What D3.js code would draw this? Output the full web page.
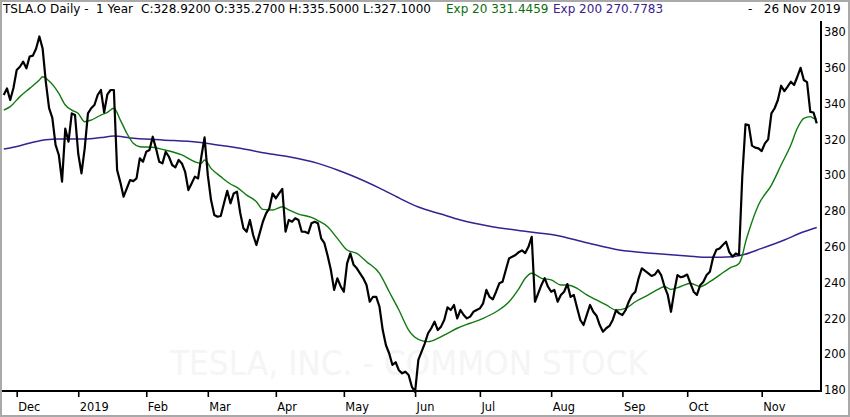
<!DOCTYPE html>
<html>
<head>
<meta charset="utf-8">
<script src="https://cdn.jsdelivr.net/npm/d3@7"></script>
<style>
  body { margin: 0; background: #fff; }
  svg { display: block; font-family: 'DejaVu Sans', sans-serif; }
  .hdr text { white-space: pre; }
</style>
</head>
<body>
<svg width="850" height="417"></svg>
<script>
// daily closes, one per trading day, 27 Nov 2018 .. 26 Nov 2019
let closes = [
  344.8, 348.5, 342, 348.7, 358.8, 360.6, 363.4, 359.7, 366.3, 366.8,
  370.8, 377.5, 370.8, 352, 337.5, 332, 316.9, 311.3, 296.4, 326,
  318.7, 334.5, 333.6, 312, 301, 315, 334.5, 337.4, 339.2, 344.8,
  347.6, 335.1, 345.2, 347.6, 347.6, 302.9, 296, 288, 292.6, 297.3,
  296.7, 298.2, 309.4, 307.5, 313.1, 314.1, 321.5, 315, 307.5, 306.6,
  313.1, 310.3, 305.7, 304.4, 308.5, 306.6, 301.9, 291.7, 295.4, 299.2,
  298.2, 310.3, 321.1, 300, 286.1, 277.8, 276.8, 277.2, 284.3, 291.3,
  284.3, 289.8, 290.8, 279, 270.3, 268.4, 275, 266.6, 261, 267.5,
  274, 278.7, 281.5, 289.8, 287.1, 289.8, 292.3, 268.4, 275, 274,
  275.9, 275, 268.4, 268.4, 267.5, 273.1, 274, 273.1, 264.7, 262,
  255, 247, 235.9, 242.4, 238, 234.9, 250.7, 256.3, 250, 248,
  245.2, 242.4, 238.7, 229.3, 232.1, 232, 226.5, 213.5, 205, 200.4,
  194, 195.5, 191, 189.3, 190.2, 188.4, 181.8, 179, 196.8, 201.4,
  206.1, 211.7, 214.5, 218.2, 213.5, 215.4, 219.1, 226.2, 224.7, 227.5,
  220, 224.7, 221.9, 220, 221, 223.7, 224.7, 225.6, 228.4, 235.9,
  232, 230.6, 234.9, 239.6, 240.5, 247, 253.5, 254.5, 255.4, 257,
  258, 256.5, 260, 265.6, 229.3, 234, 238.7, 242.5, 237.8, 234.9,
  235.9, 229.3, 233.1, 234.9, 239.2, 232, 233.1, 226, 219.1, 216.3,
  222, 227.5, 223.7, 221.5, 216.3, 212.6, 214.5, 215.8, 219.1, 224.5,
  222.8, 221.9, 224.7, 229.5, 233.1, 234.9, 242.4, 248, 246.5, 245.2,
  243.7, 244.5, 247, 244, 237.8, 233.1, 223.7, 235, 244.2, 243,
  243.5, 244.5, 239.6, 234.9, 233.1, 238.5, 240.5, 244.2, 246.1, 254,
  258.3, 259.1, 261, 262.8, 257, 254.5, 256.3, 255.4, 299, 328.4,
  328, 316.5, 315.4, 315, 313.5, 317.8, 320, 334.5, 337.4, 342,
  350, 347, 349.5, 352.2, 350.4, 355, 360, 353.2, 352, 335.4,
  335, 328.92
]

// Exp 20 at these trading days
let ema20Days = [0, 2, 5, 8, 11, 12, 14, 17, 19, 21, 23, 25, 27, 30, 32, 34, 36, 38, 40, 42,
  46, 49, 52, 55, 59, 61, 62, 64, 67, 70, 72, 75, 78, 80, 83, 86, 88, 91, 95, 97,
  100, 103, 106, 109, 112, 116, 119, 122, 125, 128, 131, 134, 137, 140, 144, 148, 152, 156, 159, 161,
  163, 166, 169, 172, 174, 177, 180, 183, 186, 189, 192, 195, 199, 202, 204, 206, 209, 212, 215, 218,
  221, 224, 227, 228, 229, 230, 233, 237, 240, 243, 245, 247, 249, 250, 251]
let ema20Vals = [336.4, 338.3, 343.9, 348.5, 353.2, 355, 352.6, 345.7, 339.2, 336.4, 334.5, 329.9, 330.8, 333.6, 335.1, 337.4, 330.8, 323.4, 317.8, 315.9,
  315.6, 314.4, 313.1, 311.3, 307.5, 306.6, 308.5, 303.8, 299.2, 295.1, 293.2, 288.9, 285.2, 280.9, 280.6, 282.4, 280.6, 278.3, 276.4, 274.6,
  271.2, 264.7, 258.2, 256.3, 251.7, 245.2, 234.9, 224.7, 213.5, 208.3, 207, 208.8, 211.6, 214.5, 217.3, 220, 223.7, 229.3, 236.5, 242.4,
  245.2, 242.4, 241.5, 238.7, 238.7, 236.8, 233.1, 230.3, 227.5, 224.7, 225.6, 229.3, 233.1, 236.2, 237.8, 236.2, 237.8, 239.6, 237.8, 240.5,
  244.2, 248, 250.7, 255, 262.5, 268.5, 283.4, 294.5, 305.7, 316.9, 326.2, 331.8, 332.7, 331.8, 331.45]

// Exp 200
let ema200Days = [0, 5, 9, 13, 17, 25, 30, 34, 39, 49, 60, 66, 73, 80, 88, 97, 103, 107, 116, 122,
  128, 135, 141, 150, 162, 170, 180, 190, 201, 211, 218, 225, 228, 234, 241, 247, 251]
let ema200Vals = [314.6, 316.5, 318.4, 319.8, 320.2, 320.2, 321, 321.9, 320.8, 319.7, 318.4, 316.9, 315, 312.6, 310.3, 306.6, 302.9, 300.1, 292.8, 287.3,
  282.2, 278.3, 275, 271.5, 268.4, 266.6, 262.3, 258.2, 256.3, 254.9, 254.1, 254.5, 255.4, 259.1, 263.8, 268.4, 270.78]

let monthDays = [4, 23, 44, 63, 84, 105, 127, 147, 169, 191, 211, 234]
let monthLabels = ['Dec', '2019', 'Feb', 'Mar', 'Apr', 'May', 'Jun', 'Jul', 'Aug', 'Sep', 'Oct', 'Nov']
let priceTicks = [180, 200, 220, 240, 260, 280, 300, 320, 340, 360, 380]

let svg = d3.select('svg')
let x = d3.scaleLinear().domain([0, closes.length - 1]).range([3.74, 816.76])
let y = d3.scaleLinear().domain([180, 380]).range([390, 32])

// frame
svg.append('rect')
  .attr('x', 1).attr('y', 1).attr('width', 848).attr('height', 415)
  .attr('fill', '#fff').attr('stroke', '#a9a9a9').attr('stroke-width', 2)

// watermark
svg.append('text')
  .attr('x', 170).attr('y', 375)
  .attr('textLength', 478).attr('lengthAdjust', 'spacingAndGlyphs')
  .attr('font-size', 33)
  .attr('fill', '#f5f5f5')
  .text('TESLA, INC.   -   COMMON STOCK')

let smooth = d3.line()
  .x(function(d) { return x(d[0]) })
  .y(function(d) { return y(d[1]) })
  .curve(d3.curveMonotoneX)

svg.append('path')
  .datum(ema200Days.map(function(d, i) { return [d, ema200Vals[i]] }))
  .attr('d', smooth)
  .attr('fill', 'none').attr('stroke', '#3a2090').attr('stroke-width', 1.5)

svg.append('path')
  .datum(ema20Days.map(function(d, i) { return [d, ema20Vals[i]] }))
  .attr('d', smooth)
  .attr('fill', 'none').attr('stroke', '#107a10').attr('stroke-width', 1.4)

let priceLine = d3.line()
  .x(function(d, i) { return x(i) })
  .y(function(d) { return y(d) })

svg.append('path')
  .datum(closes)
  .attr('d', priceLine)
  .attr('fill', 'none').attr('stroke', '#000').attr('stroke-width', 2.2)
  .attr('stroke-linejoin', 'round')

// bottom axis
let xAxis = d3.axisBottom(x)
  .tickValues(monthDays)
  .tickSize(6)
  .tickFormat(function(d, i) { return monthLabels[i] })

let gx = svg.append('g').attr('transform', 'translate(0,391)').call(xAxis)
gx.select('.domain').remove()
gx.selectAll('line').attr('stroke', '#000').attr('stroke-width', 1.6)
gx.selectAll('text')
  .attr('text-anchor', 'start').attr('x', 1).attr('y', 19.5).attr('dy', null)
  .attr('font-size', 11.4).attr('font-family', 'DejaVu Sans').attr('fill', '#000')

svg.append('line')
  .attr('x1', 2).attr('x2', 822).attr('y1', 391).attr('y2', 391)
  .attr('stroke', '#000').attr('stroke-width', 2)

// right axis
let yAxis = d3.axisRight(y)
  .tickValues(priceTicks)
  .tickSize(0)
  .tickPadding(3)

let gy = svg.append('g').attr('transform', 'translate(821,0)').call(yAxis)
gy.select('.domain').remove()
gy.selectAll('text')
  .attr('font-size', 11.4).attr('font-family', 'DejaVu Sans').attr('fill', '#000')

svg.append('line')
  .attr('x1', 821).attr('x2', 821).attr('y1', 21).attr('y2', 392)
  .attr('stroke', '#000').attr('stroke-width', 2)

// header
let header = svg.append('g').attr('class', 'hdr').attr('font-size', 12)
header.append('text').attr('x', 3).attr('y', 13.3).attr('fill', '#000').text('TSLA.O Daily -  1 Year')
header.append('text').attr('x', 141).attr('y', 13.3).attr('fill', '#000').text('C:328.9200 O:335.2700 H:335.5000 L:327.1000')
header.append('text').attr('x', 446).attr('y', 13.3).attr('fill', '#0c6e0c').text('Exp 20 331.4459')
header.append('text').attr('x', 553).attr('y', 13.3).attr('fill', '#3a2090').text('Exp 200 270.7783')
header.append('text').attr('x', 748).attr('y', 13.3).attr('fill', '#000').text('-   26 Nov 2019')
</script>
</body>
</html>
